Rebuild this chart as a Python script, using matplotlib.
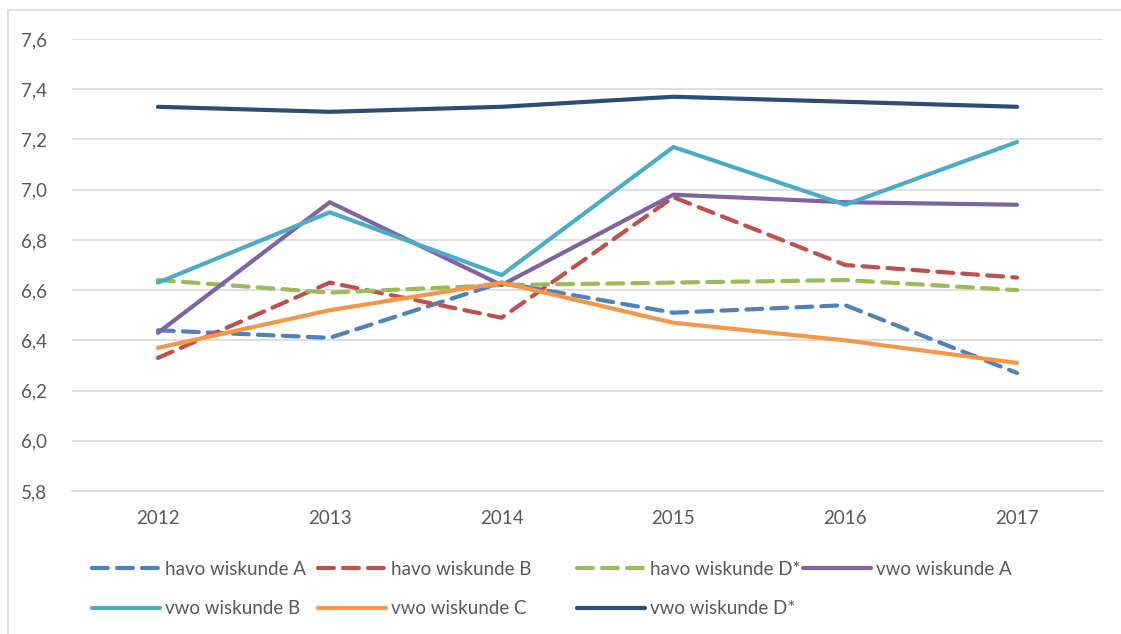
import matplotlib.pyplot as plt

years = ["2012", "2013", "2014", "2015", "2016", "2017"]

havo_a = [6.44, 6.41, 6.63, 6.51, 6.54, 6.27]
havo_b = [6.33, 6.63, 6.49, 6.97, 6.70, 6.65]
havo_d = [6.64, 6.59, 6.62, 6.63, 6.64, 6.60]
vwo_a = [6.43, 6.95, 6.62, 6.98, 6.95, 6.94]
vwo_b = [6.63, 6.91, 6.66, 7.17, 6.94, 7.19]
vwo_c = [6.37, 6.52, 6.63, 6.47, 6.40, 6.31]
vwo_d = [7.33, 7.31, 7.33, 7.37, 7.35, 7.33]

yticks = [5.8, 6.0, 6.2, 6.4, 6.6, 6.8, 7.0, 7.2, 7.4, 7.6]

series = [
    ("havo wiskunde A", havo_a, "#4F81BD", True),
    ("havo wiskunde B", havo_b, "#C0504D", True),
    ("havo wiskunde D*", havo_d, "#9BBB59", True),
    ("vwo wiskunde A", vwo_a, "#8064A2", False),
    ("vwo wiskunde B", vwo_b, "#4BACC6", False),
    ("vwo wiskunde C", vwo_c, "#F79646", False),
    ("vwo wiskunde D*", vwo_d, "#2C4D75", False),
]

plt.rcParams['font.family'] = ['Lato', 'DejaVu Sans']
txt = "#595959"

fig = plt.figure(figsize=(11.21, 6.34), dpi=100)
ax = fig.add_axes([72 / 1121, 1 - 491 / 634, 1031 / 1121, 452 / 634])

# outer chart frame (only left and top visible in the crop)
fig.add_artist(plt.Line2D([8 / 1121, 8 / 1121], [0, 1 - 10 / 634],
                          transform=fig.transFigure, color="#D9D9D9", lw=1.2))
fig.add_artist(plt.Line2D([8 / 1121, 1], [1 - 10 / 634, 1 - 10 / 634],
                          transform=fig.transFigure, color="#D9D9D9", lw=1.2))

x = list(range(len(years)))
handles = {}
for name, vals, color, dashed in series:
    line, = ax.plot(x, vals, color=color, lw=3, label=name,
                    solid_capstyle="round", dash_capstyle="round")
    if dashed:
        line.set_dashes((3.8, 2.2))
    handles[name] = line

ax.set_xlim(-0.5, 5.5)
ax.set_ylim(5.8, 7.6)
ax.set_xticks(x)
ax.set_xticklabels(years)
ax.set_yticks(yticks)
ax.set_yticklabels([f"{v:.1f}".replace(".", ",") for v in yticks])
ax.tick_params(length=0, labelsize=13.5, labelcolor=txt)
ax.tick_params(axis="y", pad=18)
ax.tick_params(axis="x", pad=14)
ax.grid(axis="y", color="#D9D9D9", lw=1.2)
ax.set_axisbelow(True)
for s in ax.spines.values():
    s.set_visible(False)
ax.spines["bottom"].set_visible(True)
ax.spines["bottom"].set_color("#D9D9D9")
ax.spines["bottom"].set_linewidth(1.2)

# legend laid out in columns like the original
columns = [
    (92, ["havo wiskunde A", "vwo wiskunde B"]),
    (318, ["havo wiskunde B", "vwo wiskunde C"]),
    (577, ["havo wiskunde D*", "vwo wiskunde D*"]),
    (803, ["vwo wiskunde A"]),
]
for xpos, names in columns:
    leg = fig.legend([handles[n] for n in names], names,
                     loc="upper left", bbox_to_anchor=(xpos / 1121, 1 - 561 / 634),
                     frameon=False, fontsize=13.5, handlelength=3.6,
                     handletextpad=0.3, labelspacing=1.2, borderpad=0,
                     borderaxespad=0, labelcolor=txt)

fig.savefig("out.png", dpi=100)
